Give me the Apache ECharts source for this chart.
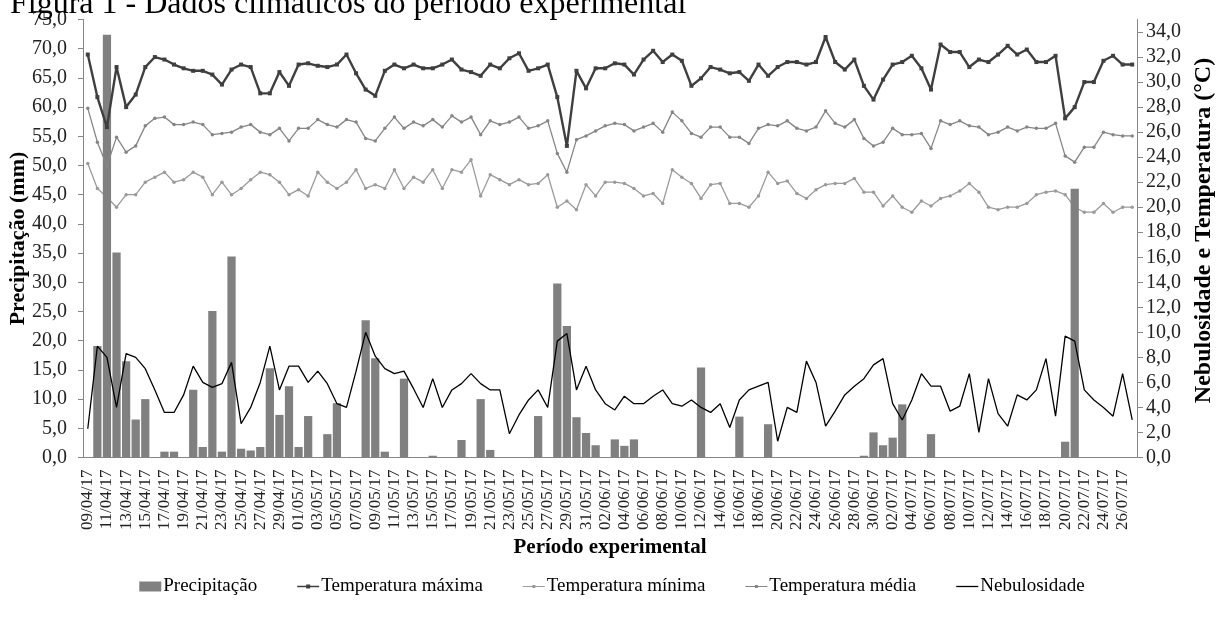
<!DOCTYPE html>
<html>
<head>
<meta charset="utf-8">
<script src="https://cdn.jsdelivr.net/npm/echarts@6/dist/echarts.min.js"></script>
<style>
  html, body { margin: 0; padding: 0; background: #fff; }
  #chart { width: 1224px; height: 623px; }
</style>
</head>
<body>
<div id="chart"></div>
<script>
// datas do período (09/04/17 a 27/07/17)
const dias = [
  '09/04/17','10/04/17','11/04/17','12/04/17','13/04/17','14/04/17','15/04/17','16/04/17','17/04/17','18/04/17',
  '19/04/17','20/04/17','21/04/17','22/04/17','23/04/17','24/04/17','25/04/17','26/04/17','27/04/17','28/04/17',
  '29/04/17','30/04/17',
  '01/05/17','02/05/17','03/05/17','04/05/17','05/05/17','06/05/17','07/05/17','08/05/17','09/05/17','10/05/17',
  '11/05/17','12/05/17','13/05/17','14/05/17','15/05/17','16/05/17','17/05/17','18/05/17','19/05/17','20/05/17',
  '21/05/17','22/05/17','23/05/17','24/05/17','25/05/17','26/05/17','27/05/17','28/05/17','29/05/17','30/05/17',
  '31/05/17',
  '01/06/17','02/06/17','03/06/17','04/06/17','05/06/17','06/06/17','07/06/17','08/06/17','09/06/17','10/06/17',
  '11/06/17','12/06/17','13/06/17','14/06/17','15/06/17','16/06/17','17/06/17','18/06/17','19/06/17','20/06/17',
  '21/06/17','22/06/17','23/06/17','24/06/17','25/06/17','26/06/17','27/06/17','28/06/17','29/06/17','30/06/17',
  '01/07/17','02/07/17','03/07/17','04/07/17','05/07/17','06/07/17','07/07/17','08/07/17','09/07/17','10/07/17',
  '11/07/17','12/07/17','13/07/17','14/07/17','15/07/17','16/07/17','17/07/17','18/07/17','19/07/17','20/07/17',
  '21/07/17','22/07/17','23/07/17','24/07/17','25/07/17','26/07/17','27/07/17'
]

// precipitação (mm) - eixo esquerdo
const precipitacao = [
  0, 19.1, 72.4, 35.1, 16.5, 6.5, 10.0, 0, 1.0, 1.0,
  0, 11.6, 1.8, 25.1, 1.0, 34.4, 1.5, 1.2, 1.8, 15.3,
  7.3, 12.2, 1.8, 7.1, 0, 4.0, 9.3, 0, 0, 23.5,
  17.0, 1.0, 0, 13.5, 0, 0, 0.3, 0, 0, 3.0,
  0, 10.0, 1.3, 0, 0, 0, 0, 7.1, 0, 29.8,
  22.5, 6.9, 4.2, 2.1, 0, 3.1, 2.0, 3.1, 0, 0,
  0, 0, 0, 0, 15.4, 0, 0, 0, 7.0, 0,
  0, 5.7, 0, 0, 0, 0, 0, 0, 0, 0,
  0, 0.3, 4.3, 2.1, 3.4, 9.1, 0, 0, 4.0, 0,
  0, 0, 0, 0, 0, 0, 0, 0, 0, 0,
  0, 0, 2.7, 46.0, 0, 0, 0, 0, 0, 0
]

// temperaturas (°C) e nebulosidade - eixo direito
const tempMaxima = [
  32.2, 28.8, 26.4, 31.2, 28.0, 29.0, 31.2, 32.0, 31.8, 31.4,
  31.1, 30.9, 30.9, 30.6, 29.8, 31.0, 31.4, 31.2, 29.1, 29.1,
  30.8, 29.7, 31.4, 31.5, 31.3, 31.2, 31.4, 32.2, 30.7, 29.4,
  28.9, 30.9, 31.4, 31.1, 31.4, 31.1, 31.1, 31.4, 31.8, 31.0,
  30.8, 30.5, 31.4, 31.1, 31.9, 32.3, 30.9, 31.1, 31.4, 28.8,
  24.9, 30.9, 29.5, 31.1, 31.1, 31.5, 31.4, 30.6, 31.8, 32.5,
  31.6, 32.2, 31.7, 29.7, 30.3, 31.2, 31.0, 30.7, 30.8, 30.1,
  31.4, 30.5, 31.2, 31.6, 31.6, 31.4, 31.6, 33.6, 31.6, 31.0,
  31.8, 29.7, 28.6, 30.2, 31.4, 31.6, 32.1, 31.1, 29.4, 33.0,
  32.4, 32.4, 31.2, 31.8, 31.6, 32.2, 32.9, 32.2, 32.6, 31.6,
  31.6, 32.1, 27.1, 28.0, 30.0, 30.0, 31.7, 32.1, 31.4, 31.4
]

const tempMinima = [
  23.5, 21.5, 20.8, 20.0, 21.0, 21.0, 22.0, 22.4, 22.8, 22.0,
  22.2, 22.8, 22.4, 21.0, 22.0, 21.0, 21.5, 22.2, 22.8, 22.6,
  22.0, 21.0, 21.4, 20.9, 22.8, 22.0, 21.5, 22.0, 23.0, 21.5,
  21.8, 21.5, 23.0, 21.5, 22.4, 22.0, 23.0, 21.5, 23.0, 22.8,
  23.8, 20.9, 22.6, 22.2, 21.8, 22.2, 21.8, 21.9, 22.6, 20.0,
  20.5, 19.8, 21.8, 20.9, 22.0, 22.0, 21.9, 21.5, 20.9, 21.1,
  20.3, 23.0, 22.4, 21.9, 20.7, 21.8, 21.9, 20.3, 20.3, 20.0,
  20.9, 22.8, 21.9, 22.1, 21.1, 20.7, 21.4, 21.8, 21.9, 21.9,
  22.3, 21.2, 21.2, 20.1, 20.9, 20.0, 19.6, 20.5, 20.1, 20.7,
  20.9, 21.3, 21.9, 21.2, 20.0, 19.8, 20.0, 20.0, 20.3, 21.0,
  21.2, 21.3, 21.0, 20.0, 19.6, 19.6, 20.3, 19.6, 20.0, 20.0
]

const tempMedia = [
  27.9, 25.2, 23.3, 25.6, 24.4, 24.9, 26.5, 27.1, 27.2, 26.6,
  26.6, 26.8, 26.6, 25.8, 25.9, 26.0, 26.4, 26.6, 26.0, 25.8,
  26.3, 25.3, 26.3, 26.3, 27.0, 26.6, 26.4, 27.0, 26.8, 25.5,
  25.3, 26.3, 27.2, 26.3, 26.8, 26.5, 27.0, 26.4, 27.3, 26.8,
  27.2, 25.8, 26.9, 26.6, 26.8, 27.2, 26.3, 26.5, 26.9, 24.3,
  22.8, 25.4, 25.7, 26.1, 26.5, 26.7, 26.6, 26.1, 26.4, 26.7,
  26.0, 27.6, 26.9, 25.9, 25.6, 26.4, 26.4, 25.6, 25.6, 25.1,
  26.3, 26.6, 26.5, 26.9, 26.3, 26.1, 26.4, 27.7, 26.7, 26.4,
  27.0, 25.5, 24.9, 25.2, 26.3, 25.8, 25.8, 25.9, 24.7, 26.9,
  26.6, 26.9, 26.5, 26.4, 25.8, 26.0, 26.4, 26.1, 26.4, 26.3,
  26.3, 26.7, 24.1, 23.6, 24.8, 24.8, 26.0, 25.8, 25.7, 25.7
]

const nebulosidade = [
  2.3, 8.9, 8.0, 4.0, 8.3, 8.0, 7.1, 5.4, 3.6, 3.6,
  5.0, 7.3, 6.0, 5.6, 5.9, 7.6, 2.7, 4.0, 6.0, 8.9,
  5.4, 7.3, 7.3, 6.0, 6.9, 5.9, 4.3, 4.0, 6.9, 10.0,
  8.1, 7.1, 6.7, 6.9, 5.5, 4.0, 6.3, 4.0, 5.4, 5.9,
  6.7, 5.9, 5.4, 5.4, 1.9, 3.4, 4.6, 5.4, 4.0, 9.3,
  9.9, 5.4, 7.3, 5.4, 4.3, 3.8, 4.9, 4.3, 4.3, 4.9,
  5.4, 4.3, 4.1, 4.6, 4.0, 3.6, 4.3, 2.4, 4.6, 5.4,
  5.7, 6.0, 1.3, 4.0, 3.6, 7.7, 6.0, 2.5, 3.7, 5.0,
  5.7, 6.3, 7.4, 7.9, 4.3, 3.0, 4.6, 6.7, 5.7, 5.7,
  3.7, 4.1, 6.7, 2.0, 6.3, 3.5, 2.5, 5.0, 4.6, 5.4,
  7.9, 3.3, 9.7, 9.3, 5.4, 4.6, 4.0, 3.3, 6.7, 3.0
]

const fonte = 'Liberation Serif'
const virgula = (v) => v.toFixed(1).replace('.', ',')

// ícones da legenda: linha fina com marcador pequeno
const iconeMax = 'path://M0,4.2H9V3H13V4.2H22V5.8H13V7H9V5.8H0Z'
const iconeTemp = 'path://M0,4.4H9.5V3.5H12.5V4.4H22V5.6H12.5V6.5H9.5V5.6H0Z'
const iconeLinha = 'path://M0,4.35H22V5.65H0Z'

const chart = echarts.init(document.getElementById('chart'))

chart.setOption({
  animation: false,
  textStyle: { fontFamily: fonte },
  title: {
    text: 'Figura 1 - Dados climáticos do período experimental',
    left: 5,
    top: -16,
    textStyle: {
      fontFamily: fonte,
      fontSize: 32,
      fontWeight: 'normal',
      color: '#000',
    },
  },
  legend: {
    data: [
      { name: 'Precipitação', icon: 'rect' },
      { name: 'Temperatura máxima', icon: iconeMax },
      { name: 'Temperatura mínima', icon: iconeTemp },
      { name: 'Temperatura média', icon: iconeTemp },
      { name: 'Nebulosidade', icon: iconeLinha },
    ],
    left: 'center',
    top: 572,
    itemGap: 40,
    itemWidth: 22,
    itemHeight: 10,
    symbolKeepAspect: true,
    itemStyle: { borderWidth: 0 },
    textStyle: {
      fontFamily: fonte,
      fontSize: 19,
      color: '#000',
      padding: [0, 0, 0, -3],
    },
  },
  grid: {
    left: 83,
    right: 87,
    top: 19.5,
    bottom: 165.5,
    outerBoundsMode: 'none',
  },
  xAxis: {
    type: 'category',
    data: dias,
    boundaryGap: true,
    name: 'Período experimental',
    nameLocation: 'middle',
    nameGap: 80,
    nameMoveOverlap: false,
    nameTextStyle: {
      fontFamily: fonte,
      fontSize: 21,
      fontWeight: 'bold',
      color: '#000',
    },
    axisLine: { lineStyle: { color: '#868686', width: 1 } },
    axisTick: { show: false },
    axisLabel: {
      interval: 1,
      rotate: 90,
      margin: 12,
      fontFamily: fonte,
      fontSize: 17,
      color: '#222',
    },
  },
  yAxis: [
    {
      type: 'value',
      min: 0,
      max: 75,
      interval: 5,
      name: 'Precipitação (mm)',
      nameLocation: 'middle',
      nameRotate: 90,
      nameGap: 54,
      nameMoveOverlap: false,
      nameTextStyle: {
        fontFamily: fonte,
        fontSize: 22,
        fontWeight: 'bold',
        color: '#000',
      },
      splitLine: { show: false },
      axisLine: { show: true, lineStyle: { color: '#868686' } },
      axisTick: { show: true, length: 5, lineStyle: { color: '#868686' } },
      axisLabel: {
        margin: 16,
        fontFamily: fonte,
        fontSize: 20,
        color: '#222',
        formatter: virgula,
      },
    },
    {
      type: 'value',
      min: 0,
      max: 35,
      interval: 2,
      name: 'Nebulosidade e Temperatura (°C)',
      nameLocation: 'middle',
      nameRotate: 90,
      nameGap: 55,
      nameMoveOverlap: false,
      nameTextStyle: {
        fontFamily: fonte,
        fontSize: 24,
        fontWeight: 'bold',
        color: '#000',
        padding: [0, 0, 0, 16],
      },
      splitLine: { show: false },
      axisLine: { show: true, lineStyle: { color: '#868686' } },
      axisTick: { show: true, length: 6, lineStyle: { color: '#868686' } },
      axisLabel: {
        margin: 9,
        showMaxLabel: false,
        fontFamily: fonte,
        fontSize: 20,
        color: '#222',
        formatter: (v) => (v > 34 ? '' : virgula(v)),
      },
    },
  ],
  series: [
    {
      name: 'Temperatura mínima',
      type: 'line',
      yAxisIndex: 1,
      data: tempMinima,
      z: 1,
      symbol: 'circle',
      symbolSize: 3.5,
      lineStyle: { color: '#9a9a9a', width: 1.3 },
      itemStyle: { color: '#9a9a9a' },
    },
    {
      name: 'Precipitação',
      type: 'bar',
      yAxisIndex: 0,
      data: precipitacao,
      z: 2,
      barCategoryGap: '14%',
      itemStyle: { color: '#808080' },
    },
    {
      name: 'Temperatura média',
      type: 'line',
      yAxisIndex: 1,
      data: tempMedia,
      z: 3,
      symbol: 'circle',
      symbolSize: 3.5,
      lineStyle: { color: '#858585', width: 1.3 },
      itemStyle: { color: '#858585' },
    },
    {
      name: 'Temperatura máxima',
      type: 'line',
      yAxisIndex: 1,
      data: tempMaxima,
      z: 4,
      symbol: 'rect',
      symbolSize: 4,
      lineStyle: { color: '#3f3f3f', width: 2.4 },
      itemStyle: { color: '#3f3f3f' },
    },
    {
      name: 'Nebulosidade',
      type: 'line',
      yAxisIndex: 1,
      data: nebulosidade,
      z: 5,
      symbol: 'none',
      lineStyle: { color: '#000', width: 1.3 },
      itemStyle: { color: '#000' },
    },
  ],
})
</script>
</body>
</html>
